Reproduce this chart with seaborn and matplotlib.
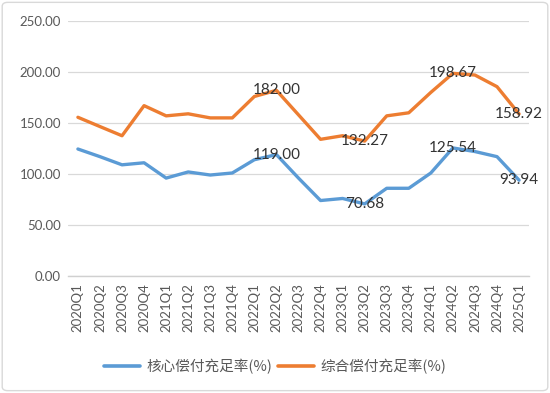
import pandas as pd
import matplotlib
matplotlib.use("Agg")
import matplotlib.pyplot as plt
from matplotlib.lines import Line2D
from matplotlib.patches import FancyBboxPatch
import seaborn as sns

quarters = ["2020Q1", "2020Q2", "2020Q3", "2020Q4", "2021Q1", "2021Q2", "2021Q3",
            "2021Q4", "2022Q1", "2022Q2", "2022Q3", "2022Q4", "2023Q1", "2023Q2",
            "2023Q3", "2023Q4", "2024Q1", "2024Q2", "2024Q3", "2024Q4", "2025Q1"]
core = [124.5, 117.0, 109.0, 111.0, 96.0, 102.0, 99.0, 101.0, 114.0, 119.00, 96.0,
        74.0, 76.0, 70.68, 86.0, 86.0, 101.0, 125.54, 122.0, 117.0, 93.94]
comp = [155.6, 146.5, 137.5, 167.0, 157.0, 159.0, 155.0, 155.0, 176.0, 182.00, 158.0,
        134.0, 137.5, 132.27, 157.0, 160.0, 180.0, 198.67, 197.0, 185.6, 158.92]
series_names = ["核心偿付充足率(%)", "综合偿付充足率(%)"]
label_idx = [9, 13, 17, 20]
colors = ["#5B9BD5", "#ED7D31"]

df = pd.DataFrame({
    "q": list(range(len(quarters))) * 2,
    "val": core + comp,
    "series": [series_names[0]] * len(core) + [series_names[1]] * len(comp),
})

sns.set_style("white")
plt.rcParams["font.family"] = ["Lato", "Noto Sans CJK SC", "DejaVu Sans"]

fig = plt.figure(figsize=(5.5, 3.93), dpi=100)
ax = fig.add_axes([0.1236, 0.2977, 0.8382, 0.6489])

sns.lineplot(data=df, x="q", y="val", hue="series", palette=colors,
             linewidth=2.4, ax=ax, legend=False)

for vals in (core, comp):
    for i in label_idx:
        ax.text(i, vals[i], f"{vals[i]:.2f}", ha="center", va="center",
                fontsize=11, color="#333333")

ax.set_xlim(-0.45, len(quarters) - 0.55)
ax.set_ylim(0, 250)
ax.set_yticks([0, 50, 100, 150, 200, 250])
ax.set_yticklabels([f"{v:.2f}" for v in [0, 50, 100, 150, 200, 250]],
                   fontsize=9.5, color="#595959")
ax.set_xticks(range(len(quarters)))
ax.set_xticklabels(quarters, rotation=90, fontsize=9.5, color="#595959")
ax.tick_params(axis="both", length=0, pad=5)
ax.grid(axis="y", color="#D9D9D9", linewidth=0.9)
ax.set_axisbelow(True)
ax.set_xlabel("")
ax.set_ylabel("")
for s in ["top", "right", "left"]:
    ax.spines[s].set_visible(False)
ax.spines["bottom"].set_color("#D0D0D0")
ax.spines["bottom"].set_linewidth(1.0)

handles = [Line2D([0], [0], color=c, linewidth=2.6) for c in colors]
fig.legend(handles, series_names, loc="center", bbox_to_anchor=(0.5, 0.068),
           ncol=2, frameon=False, handlelength=2.5,
           columnspacing=0.4, handletextpad=0.4,
           prop={"family": ["Noto Sans CJK SC", "DejaVu Sans"], "size": 10.5},
           labelcolor="#595959")

border = FancyBboxPatch((0.004, 0.006), 0.992, 0.988, boxstyle="round,pad=0,rounding_size=0.01",
                        transform=fig.transFigure, facecolor="none",
                        edgecolor="#D9D9D9", linewidth=1.0)
fig.patches.append(border)

fig.savefig("out.png", dpi=100)
